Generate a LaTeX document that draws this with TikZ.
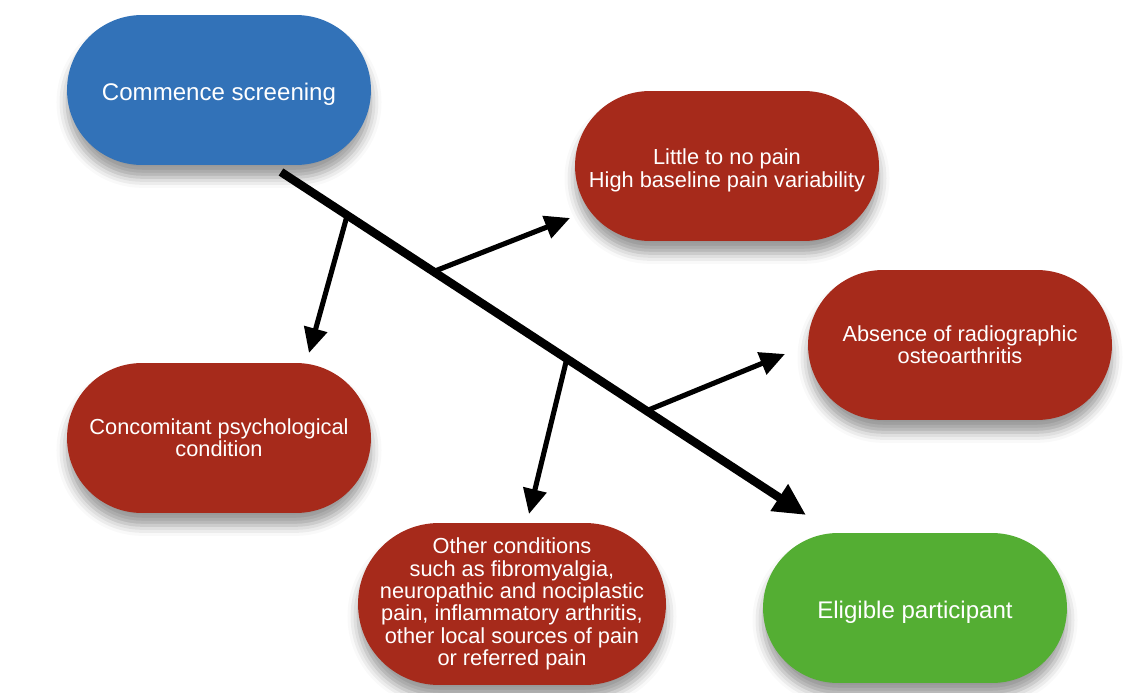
\documentclass[tikz,border=0pt]{standalone}
\usepackage{fontspec}
\setmainfont{Liberation Sans}
\usetikzlibrary{arrows.meta,shadows.blur}
\definecolor{screenblue}{RGB}{50,114,184}
\definecolor{exclred}{RGB}{166,42,27}
\definecolor{eligreen}{RGB}{84,174,51}
\tikzset{
	pill/.style={draw=none, rounded corners=1.5cm, minimum width=6.08cm, minimum height=3cm,
		inner sep=0pt, align=center, text=white,
		blur shadow={shadow xshift=0pt, shadow yshift=-7pt, shadow opacity=40, shadow blur radius=6pt}},
	bigtext/.style={font=\fontsize{13.7}{15}\selectfont},
	smalltext/.style={font=\fontsize{12.4}{12.7}\selectfont},
	mainarrow/.style={line width=4.8pt, -{Triangle[length=0.64cm, width=0.6cm]}},
	sidearrow/.style={line width=2.9pt, -{Triangle[length=0.5cm, width=0.46cm]}}
}
\newcommand{\lowered}[1]{\raisebox{-2.5pt}[\height][\depth]{#1}}
\begin{document}
\begin{tikzpicture}[x=0.02cm, y=-0.02cm]
				\useasboundingbox (0,0) rectangle (1134,693);
				\coordinate (M0) at (281,172);
				\coordinate (M1) at (806,515);
				\coordinate (B0) at (347,216);
				\coordinate (B1) at (309,353);
				\coordinate (C0) at (435,271);
				\coordinate (C1) at (570,218);
				\coordinate (D0) at (567,358);
				\coordinate (D1) at (529,514);
				\coordinate (E0) at (646,411);
				\coordinate (E1) at (785,354);
				\node[pill, bigtext, fill=screenblue] (screen) at (219,90) {\lowered{Commence screening}};
				\node[pill, smalltext, fill=exclred] (pain) at (727,166) {\lowered{Little to no pain}\\\lowered{High baseline pain variability}};
				\node[pill, smalltext, fill=exclred] (xray) at (960,345) {Absence of radiographic\\osteoarthritis};
				\node[pill, smalltext, fill=exclred] (psych) at (219,438) {Concomitant psychological\\condition};
				\node[pill, smalltext, fill=exclred, minimum width=6.16cm, minimum height=3.24cm,
					rounded corners=1.62cm] (other) at (512,604) {Other conditions\\such as fibromyalgia,\\neuropathic and nociplastic\\pain, inflammatory arthritis,\\other local sources of pain\\or referred pain};
				\node[pill, bigtext, fill=eligreen] (elig) at (915,608) {\lowered{Eligible participant}};
				\draw[mainarrow] (M0) -- (M1);
				\draw[sidearrow] (B0) -- (B1);
				\draw[sidearrow] (C0) -- (C1);
				\draw[sidearrow] (D0) -- (D1);
				\draw[sidearrow] (E0) -- (E1);
\end{tikzpicture}
\end{document}
